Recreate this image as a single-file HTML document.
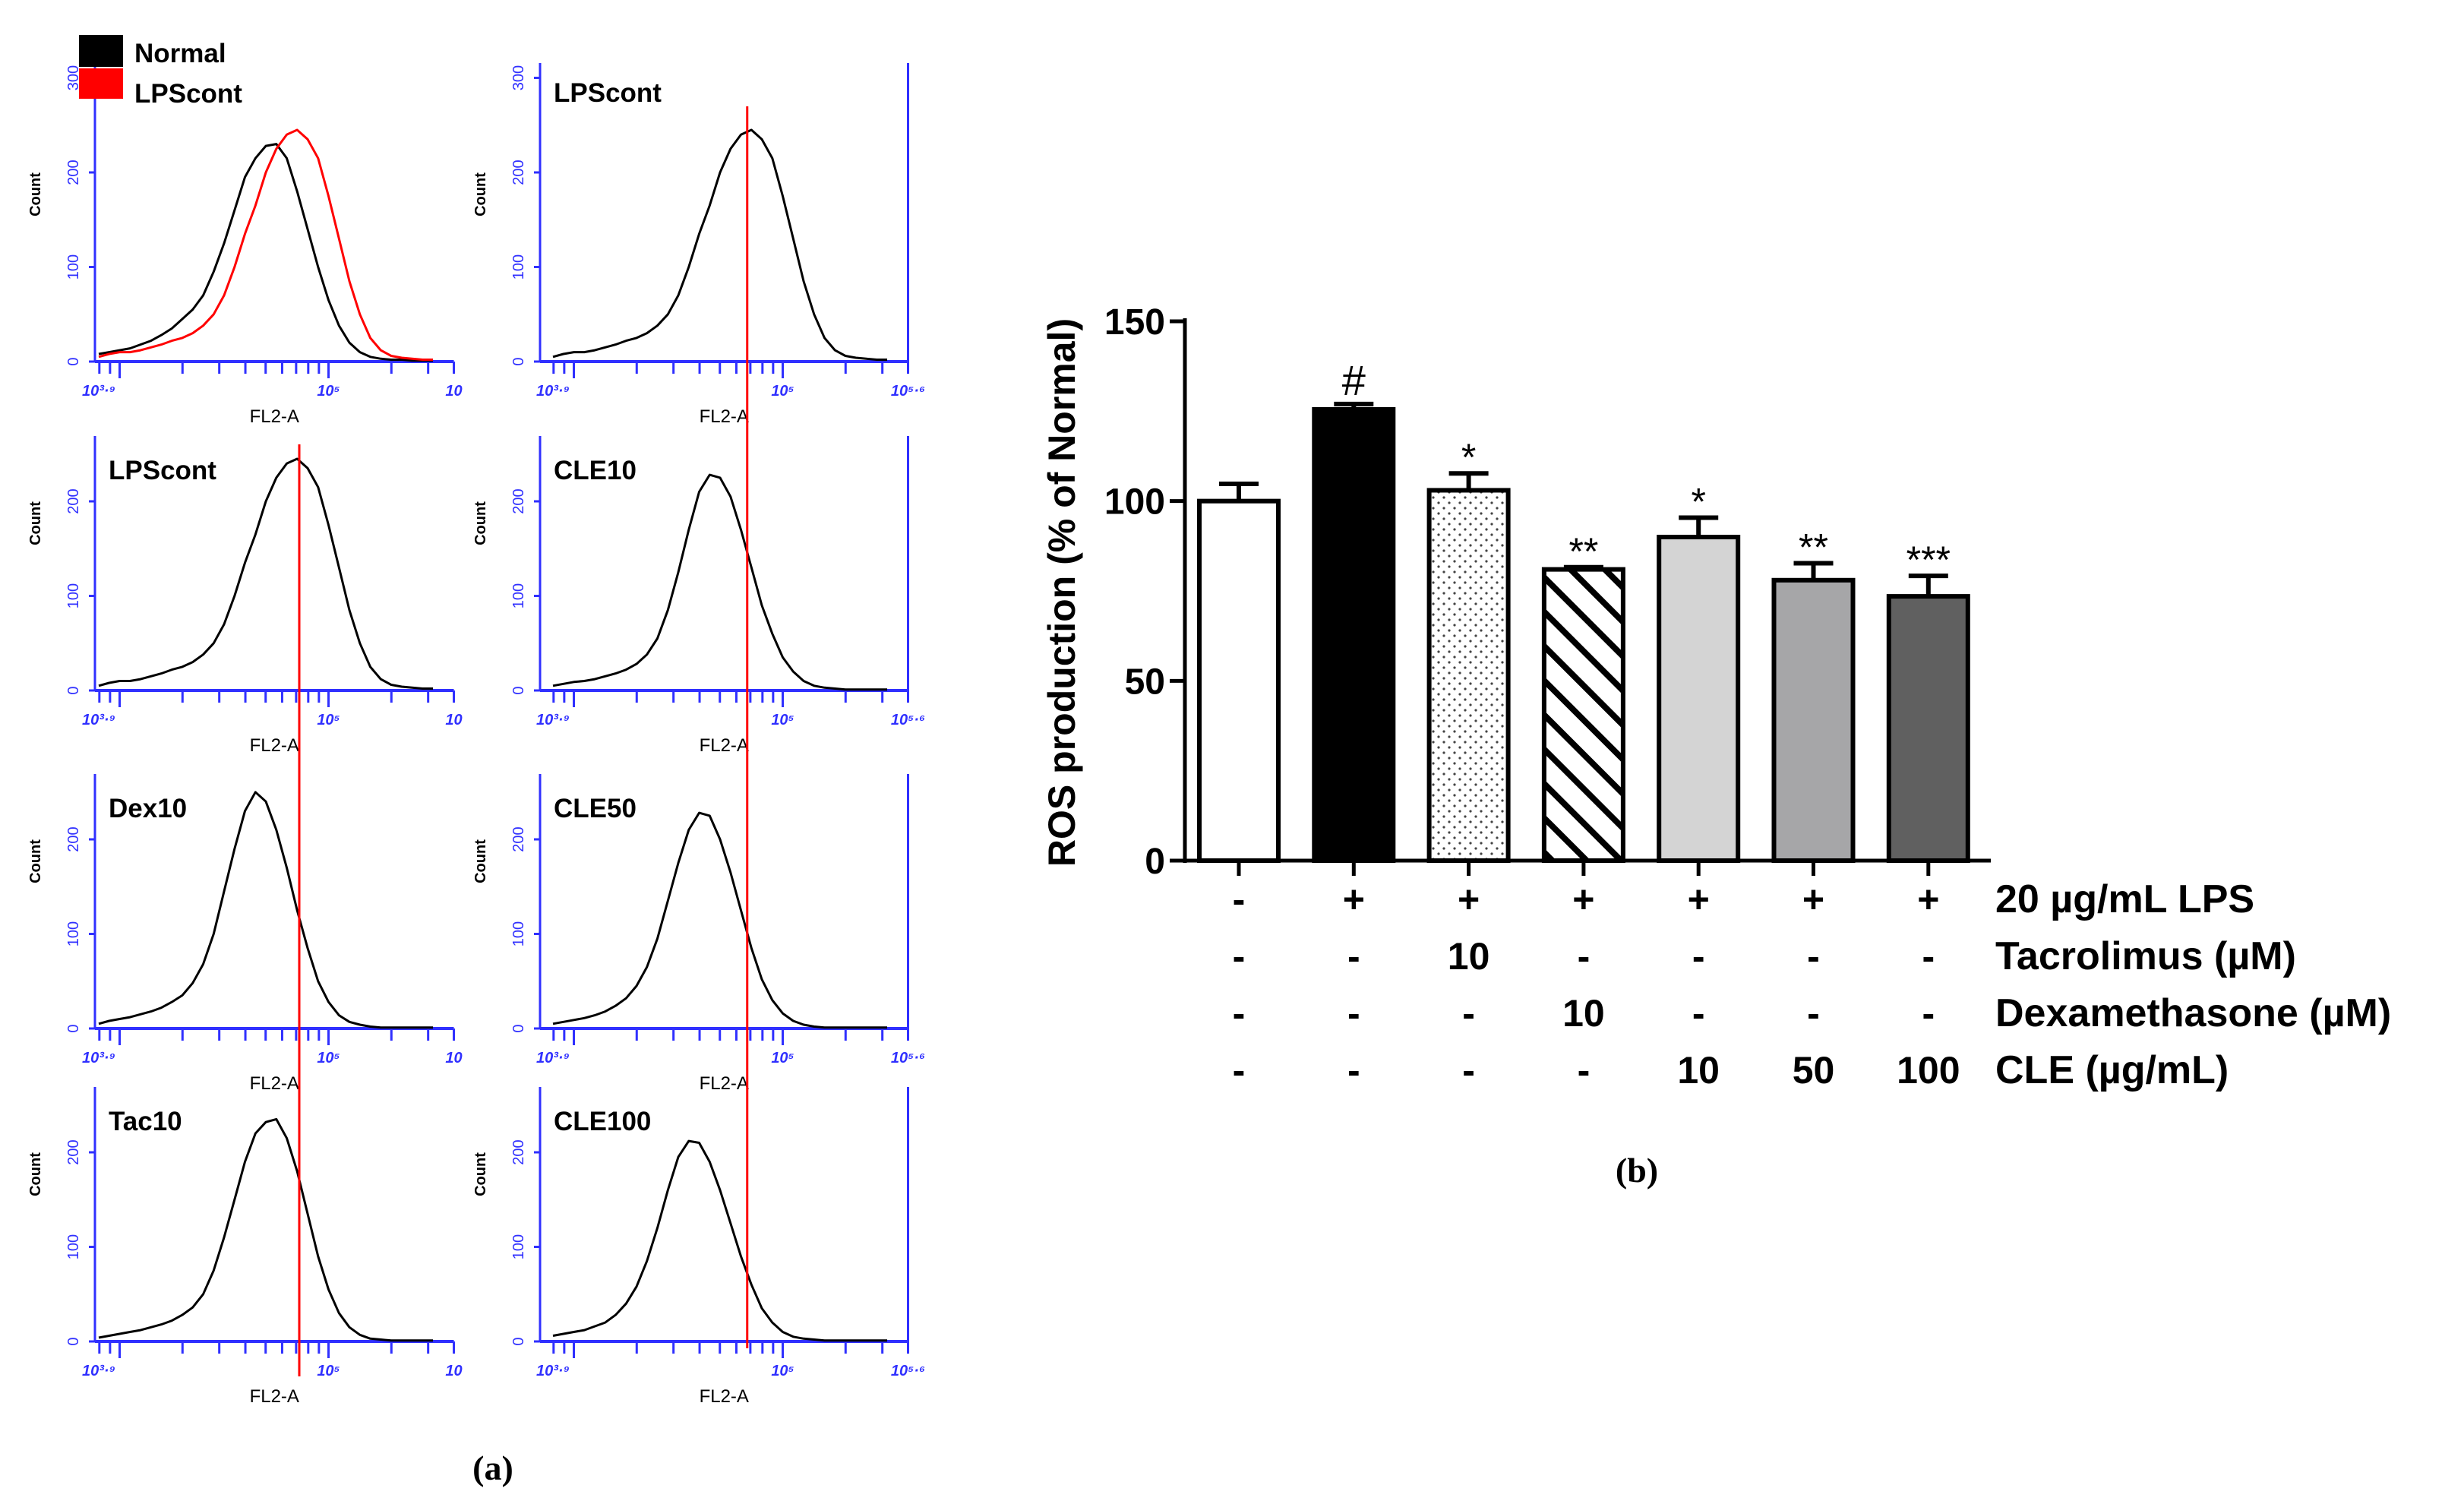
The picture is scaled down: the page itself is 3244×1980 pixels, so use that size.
<!DOCTYPE html>
<html><head><meta charset="utf-8"><style>
html,body{margin:0;padding:0;background:#fff}
svg{display:block}
</style></head><body>
<svg id="fig" xmlns="http://www.w3.org/2000/svg" width="3244" height="1980" viewBox="0 0 3244 1980">
<defs>
<pattern id="dots" width="14" height="14" patternUnits="userSpaceOnUse"><rect width="14" height="14" fill="#fff"/><circle cx="4" cy="4" r="1.6" fill="#444"/><circle cx="11" cy="11" r="1.6" fill="#444"/></pattern>
<pattern id="hatch" width="32" height="32" patternUnits="userSpaceOnUse" patternTransform="rotate(-45)"><rect width="32" height="32" fill="#fff"/><rect x="0" y="0" width="8" height="32" fill="#000"/></pattern>
</defs>
<g id="panelA"></g>
<g id="panelB"></g>
<text x="649" y="1948" font-family="Liberation Serif, serif" font-weight="bold" font-size="46" text-anchor="middle">(a)</text>
<text x="2155" y="1556" font-family="Liberation Serif, serif" font-weight="bold" font-size="46" text-anchor="middle">(b)</text>
</svg>
<script>
// ---------- Panel (b) data ----------
const groups = ["Normal","LPS","Tac10","Dex10","CLE10","CLE50","CLE100"];
const rosValues = [100, 125.5, 103, 81, 90, 78, 73.5];
const rosErrors = [4.8, 1.5, 4.7, 0.6, 5.4, 4.7, 5.7];
const sigMarks = ["", "#", "*", "**", "*", "**", "***"];
const yTicks = [0, 50, 100, 150];
const rowLPS = ["-","+","+","+","+","+","+"];
const rowTac = ["-","-","10","-","-","-","-"];
const rowDex = ["-","-","-","10","-","-","-"];
const rowCLE = ["-","-","-","-","10","50","100"];
const rowTitles = ["20 \u00b5g/mL LPS","Tacrolimus (\u00b5M)","Dexamethasone (\u00b5M)","CLE (\u00b5g/mL)"];
const barFills = ["#fff","#000","url(#dots)","url(#hatch)","#d4d4d4","#a6a6a8","#606060"];

// ---------- Panel (a) data (counts per log bin, bins from 10^3.9 step 0.05) ----------
const binStart = 3.9, binStep = 0.05;
const histNormal = [8,10,12,14,18,22,28,35,45,55,70,95,125,160,195,215,228,230,215,180,140,100,65,38,20,10,5,3,2,2,1,1,1];
const histLPS = [5,8,10,10,12,15,18,22,25,30,38,50,70,100,135,165,200,225,240,245,235,215,175,130,85,50,25,12,6,4,3,2,2];
const histCLE10 = [5,7,9,10,12,15,18,22,28,38,55,85,125,170,210,228,225,205,170,130,90,60,35,20,10,5,3,2,1,1,1,1,1];
const histDex10 = [5,8,10,12,15,18,22,28,35,48,68,100,145,190,230,250,240,210,170,125,85,50,28,14,7,4,2,1,1,1,1,1,1];
const histCLE50 = [5,7,9,11,14,18,24,32,45,65,95,135,175,210,228,225,200,165,125,85,52,30,16,8,4,2,1,1,1,1,1,1,1];
const histTac10 = [4,6,8,10,12,15,18,22,28,36,50,75,110,150,190,220,232,235,215,180,135,90,55,30,15,7,3,2,1,1,1,1,1];
const histCLE100 = [6,8,10,12,16,20,28,40,58,85,120,160,195,212,210,190,160,125,90,60,35,20,10,5,3,2,1,1,1,1,1,1,1];
const countTicks = [0,100,200,300];
const lpsLineLog = 4.86;

const NS="http://www.w3.org/2000/svg";
function mk(tag, attrs, parent, txt){const e=document.createElementNS(NS,tag);for(const k in attrs)e.setAttribute(k,attrs[k]);if(txt!==undefined)e.textContent=txt;parent.appendChild(e);return e;}

// ---------- draw (b) ----------
const B=document.getElementById('panelB');
const axX=1560, y0=1133, yTop=423, vMax=150;
const yS=v=>y0-v*(y0-yTop)/vMax;
const xC=i=>1631+i*151.3;
const barW=104;
let ax=mk('line',{x1:axX,y1:yTop-4,x2:axX,y2:y0+3,stroke:'#000','stroke-width':5},B);

ax=mk('line',{x1:axX-20,y1:y0,x2:2621,y2:y0,stroke:'#000','stroke-width':5},B);

yTicks.forEach(t=>{
  let l=mk('line',{x1:axX-20,y1:yS(t),x2:axX,y2:yS(t),stroke:'#000','stroke-width':5},B);
  
  let tx=mk('text',{x:axX-26,y:yS(t)+17,'text-anchor':'end','font-family':'Liberation Sans, sans-serif','font-weight':'bold','font-size':48},B,String(t));
  
});
let yl=mk('text',{x:0,y:0,transform:'translate(1415,780) rotate(-90)','text-anchor':'middle','font-family':'Liberation Sans, sans-serif','font-weight':'bold','font-size':50},B,'ROS production (% of Normal)');

groups.forEach((g,i)=>{
  const cx=xC(i), top=yS(rosValues[i]), et=yS(rosValues[i]+rosErrors[i]);
  let eb=mk('line',{x1:cx,y1:et,x2:cx,y2:top,stroke:'#000','stroke-width':6},B);
  
  let cap=mk('line',{x1:cx-26,y1:et,x2:cx+26,y2:et,stroke:'#000','stroke-width':6},B);
  
  let r=mk('rect',{x:cx-barW/2,y:top,width:barW,height:y0-top,fill:barFills[i],stroke:'#000','stroke-width':6},B);
  
  let tk=mk('line',{x1:cx,y1:y0,x2:cx,y2:y0+20,stroke:'#000','stroke-width':5},B);
  
  if(sigMarks[i]){let s=mk('text',{x:cx,y:et-(sigMarks[i]=='#'?12:4),'text-anchor':'middle','font-family':'Liberation Sans, sans-serif','font-size':sigMarks[i]=='#'?56:50},B,sigMarks[i]);
    }
  [rowLPS,rowTac,rowDex,rowCLE].forEach((row,k)=>{
    let t=mk('text',{x:cx,y:1201+k*75,'text-anchor':'middle','font-family':'Liberation Sans, sans-serif','font-weight':'bold','font-size':50},B,row[i]);
    
  });
});
rowTitles.forEach((rt,k)=>{
  let t=mk('text',{x:2627,y:1201+k*75,'font-family':'Liberation Sans, sans-serif','font-weight':'bold','font-size':52},B,rt);
  
});

// ---------- draw (a) ----------
const A=document.getElementById('panelA');
const blue='#3030ff';
const panels=[
 {col:0,row:0,label:null,series:[[histNormal,'#000'],[histLPS,'#f00']],right:false},
 {col:1,row:0,label:'LPScont',series:[[histLPS,'#000']],right:true},
 {col:0,row:1,label:'LPScont',series:[[histLPS,'#000']],right:false},
 {col:1,row:1,label:'CLE10',series:[[histCLE10,'#000']],right:true},
 {col:0,row:2,label:'Dex10',series:[[histDex10,'#000']],right:false},
 {col:1,row:2,label:'CLE50',series:[[histCLE50,'#000']],right:true},
 {col:0,row:3,label:'Tac10',series:[[histTac10,'#000']],right:false},
 {col:1,row:3,label:'CLE100',series:[[histCLE100,'#000']],right:true}
];
const rowBase=[476,909,1354,1766];
const colAxis=[125,711], colOrigin=[130,728], perDec=275, cScale=1.245;
const tickLogs=[3.903,3.954,4,4.301,4.477,4.602,4.699,4.778,4.845,4.903,4.954,5,5.301,5.477,5.6];
panels.forEach((p,pi)=>{
  const g=mk('g',{},A);
  
  
  const yb=rowBase[p.row], xa=colAxis[p.col], xo=colOrigin[p.col];
  const xL=l=>xo+(l-3.9)*perDec, yC=c=>yb-c*cScale;
  const xEnd=xL(5.6);
  const axH = p.row==0 ? 393 : 335;
  let l=mk('line',{x1:xa,y1:yb-axH,x2:xa,y2:yb,stroke:blue,'stroke-width':3},g);
  
  l=mk('line',{x1:xa,y1:yb,x2:xEnd,y2:yb,stroke:blue,'stroke-width':4},g);
  
  if(p.right){l=mk('line',{x1:xEnd,y1:yb-axH,x2:xEnd,y2:yb,stroke:blue,'stroke-width':3},g);
    }
  tickLogs.forEach(t=>{const x=xL(t);const major=(t==4||t==5);
    let tk=mk('line',{x1:x,y1:yb,x2:x,y2:yb+(major?22:16),stroke:blue,'stroke-width':3},g);
    });
  countTicks.forEach(c=>{if(p.row>0&&c==300)return;
    let tk=mk('line',{x1:xa-8,y1:yC(c),x2:xa,y2:yC(c),stroke:blue,'stroke-width':3},g);
    
    let tx=mk('text',{x:0,y:0,transform:`translate(${xa-22},${yC(c)}) rotate(-90)`,'text-anchor':'middle','font-family':'Liberation Sans, sans-serif','font-size':20,fill:blue},g,String(c));
    });
  let ct=mk('text',{x:0,y:0,transform:`translate(${xa-72},${yb-220}) rotate(-90)`,'text-anchor':'middle','font-family':'Liberation Sans, sans-serif','font-size':20,'font-weight':'bold'},g,'Count');
  
  [['10\u00b3\u00b7\u2079',xL(3.9)],['10\u2075',xL(5)],[p.right?'10\u2075\u00b7\u2076':'10',xL(5.6)]].forEach(([s,x])=>{
    let tx=mk('text',{x:x,y:yb+45,'text-anchor':'middle','font-family':'Liberation Sans, sans-serif','font-size':20,'font-style':'italic','font-weight':'bold',fill:blue},g,s);
    });
  let xt=mk('text',{x:(xa+xEnd)/2,y:yb+80,'text-anchor':'middle','font-family':'Liberation Sans, sans-serif','font-size':24},g,'FL2-A');
  
  p.series.forEach(([arr,col])=>{
    const pts=arr.map((c,i)=>xL(binStart+i*binStep).toFixed(1)+','+yC(c).toFixed(1)).join(' ');
    let pl=mk('polyline',{points:pts,fill:'none',stroke:col,'stroke-width':3,'stroke-linejoin':'round'},g);
    
  });
  if(p.label){let t=mk('text',{x:xa+18,y:yb-(p.row==0?342:278),'font-family':'Liberation Sans, sans-serif','font-weight':'bold','font-size':35},g,p.label);
    }
});
// reference red lines
let rl=mk('line',{x1:colOrigin[0]+(lpsLineLog-3.9)*perDec,y1:585,x2:colOrigin[0]+(lpsLineLog-3.9)*perDec,y2:1812,stroke:'#f00','stroke-width':3},A);

rl=mk('line',{x1:colOrigin[1]+(4.83-3.9)*perDec,y1:140,x2:colOrigin[1]+(4.83-3.9)*perDec,y2:1775,stroke:'#f00','stroke-width':3},A);

// legend
const lg=mk('g',{},A);

let sw=mk('rect',{x:104,y:46,width:58,height:42,fill:'#000'},lg);

sw=mk('rect',{x:104,y:90,width:58,height:40,fill:'#f00'},lg);

let lt=mk('text',{x:177,y:82,'font-family':'Liberation Sans, sans-serif','font-weight':'bold','font-size':35},lg,'Normal');

lt=mk('text',{x:177,y:135,'font-family':'Liberation Sans, sans-serif','font-weight':'bold','font-size':35},lg,'LPScont');

</script>
</body></html>
